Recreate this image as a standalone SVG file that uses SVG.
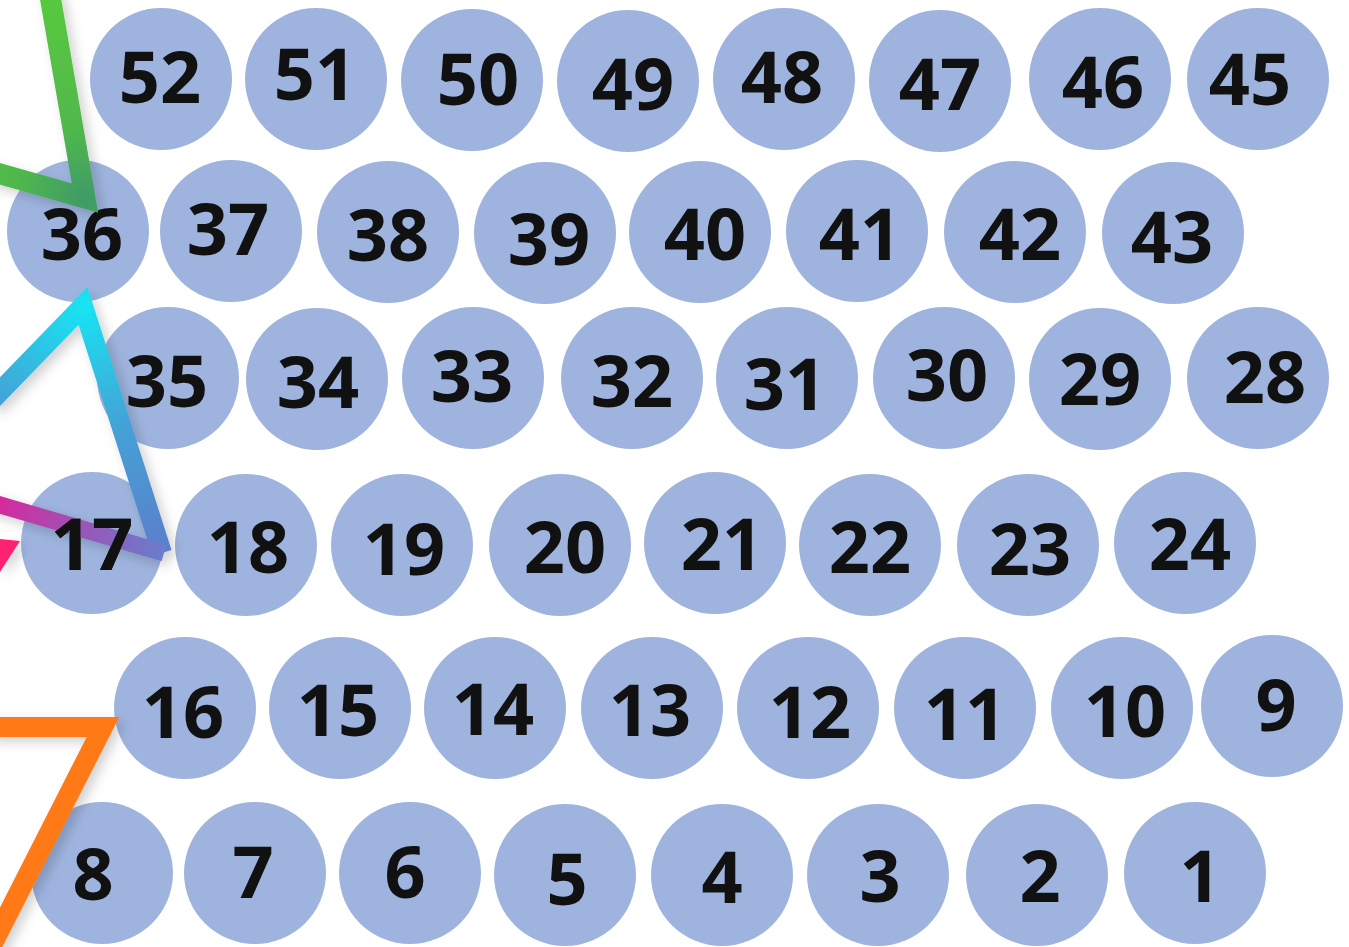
<svg xmlns="http://www.w3.org/2000/svg" xmlns:xlink="http://www.w3.org/1999/xlink" width="1349" height="947" viewBox="0 0 1349 947">
<style>
.n{fill:#9eb4de}
.t{font-family:"Open Sans","Liberation Sans",sans-serif;font-weight:bold;font-size:72px;fill:#111;text-anchor:middle}
.ln{fill:none;stroke-linejoin:miter;stroke-miterlimit:10;stroke-linecap:butt}
</style>
<defs>
<filter id="sh" x="-20%" y="-20%" width="140%" height="140%">
<feDropShadow dx="5" dy="5" stdDeviation="6" flood-color="#000" flood-opacity="0.18"/>
</filter>
<radialGradient id="gGreen" gradientUnits="userSpaceOnUse" cx="85" cy="198" r="200">
<stop offset="0" stop-color="#3f9a68"/><stop offset="0.35" stop-color="#50b84c"/><stop offset="1" stop-color="#58c83f"/>
</radialGradient>
<radialGradient id="gCyan" gradientUnits="userSpaceOnUse" cx="83" cy="306" r="260">
<stop offset="0" stop-color="#18e4f2"/><stop offset="0.5" stop-color="#45a0d6"/><stop offset="1" stop-color="#5c7ecb"/>
</radialGradient>
<linearGradient id="gMag" gradientUnits="userSpaceOnUse" x1="0" y1="505" x2="162" y2="553">
<stop offset="0" stop-color="#d42b9c"/><stop offset="0.5" stop-color="#9a55b8"/><stop offset="1" stop-color="#6a7ccb"/>
</linearGradient>
</defs>
<rect width="1349" height="947" fill="#fff"/>
<g id="nodes">
<g id="n52"><circle class="n" cx="161" cy="79" r="71"/><text class="t" x="160" y="103">52</text></g>
<g id="n51"><circle class="n" cx="316" cy="79" r="71"/><text class="t" x="315" y="100">51</text></g>
<g id="n50"><circle class="n" cx="472" cy="80" r="71"/><text class="t" x="478" y="105">50</text></g>
<g id="n49"><circle class="n" cx="628" cy="81" r="71"/><text class="t" x="633" y="110">49</text></g>
<g id="n48"><circle class="n" cx="784" cy="79" r="71"/><text class="t" x="782" y="103">48</text></g>
<g id="n47"><circle class="n" cx="940" cy="81" r="71"/><text class="t" x="940" y="110">47</text></g>
<g id="n46"><circle class="n" cx="1100" cy="79" r="71"/><text class="t" x="1103" y="108">46</text></g>
<g id="n45"><circle class="n" cx="1258" cy="79" r="71"/><text class="t" x="1250" y="105">45</text></g>

<g id="n36"><circle class="n" cx="78" cy="231" r="71"/><text class="t" x="82" y="260">36</text></g>
<g id="n37"><circle class="n" cx="231" cy="231" r="71"/><text class="t" x="228" y="255">37</text></g>
<g id="n38"><circle class="n" cx="388" cy="232" r="71"/><text class="t" x="388" y="261">38</text></g>
<g id="n39"><circle class="n" cx="545" cy="233" r="71"/><text class="t" x="549" y="265">39</text></g>
<g id="n40"><circle class="n" cx="700" cy="232" r="71"/><text class="t" x="705" y="260">40</text></g>
<g id="n41"><circle class="n" cx="857" cy="231" r="71"/><text class="t" x="860" y="260">41</text></g>
<g id="n42"><circle class="n" cx="1015" cy="232" r="71"/><text class="t" x="1020" y="260">42</text></g>
<g id="n43"><circle class="n" cx="1173" cy="233" r="71"/><text class="t" x="1172" y="263">43</text></g>

<g id="n35"><circle class="n" cx="168" cy="378" r="71"/><text class="t" x="167" y="407">35</text></g>
<g id="n34"><circle class="n" cx="317" cy="379" r="71"/><text class="t" x="318" y="408">34</text></g>
<g id="n33"><circle class="n" cx="473" cy="378" r="71"/><text class="t" x="472" y="402">33</text></g>
<g id="n32"><circle class="n" cx="632" cy="378" r="71"/><text class="t" x="632" y="407">32</text></g>
<g id="n31"><circle class="n" cx="787" cy="378" r="71"/><text class="t" x="785" y="410">31</text></g>
<g id="n30"><circle class="n" cx="944" cy="378" r="71"/><text class="t" x="947" y="401">30</text></g>
<g id="n29"><circle class="n" cx="1100" cy="379" r="71"/><text class="t" x="1100" y="405">29</text></g>
<g id="n28"><circle class="n" cx="1258" cy="378" r="71"/><text class="t" x="1265" y="403">28</text></g>

<g id="n17"><circle class="n" cx="92" cy="543" r="71"/><text id="t17" class="t" x="92" y="570">17</text></g>
<g id="n18"><circle class="n" cx="246" cy="545" r="71"/><text class="t" x="248" y="573">18</text></g>
<g id="n19"><circle class="n" cx="402" cy="545" r="71"/><text class="t" x="404" y="575">19</text></g>
<g id="n20"><circle class="n" cx="560" cy="545" r="71"/><text class="t" x="565" y="573">20</text></g>
<g id="n21"><circle class="n" cx="715" cy="543" r="71"/><text class="t" x="722" y="570">21</text></g>
<g id="n22"><circle class="n" cx="870" cy="545" r="71"/><text class="t" x="870" y="573">22</text></g>
<g id="n23"><circle class="n" cx="1028" cy="545" r="71"/><text class="t" x="1030" y="575">23</text></g>
<g id="n24"><circle class="n" cx="1185" cy="543" r="71"/><text class="t" x="1190" y="570">24</text></g>

<g id="n16"><circle class="n" cx="185" cy="708" r="71"/><text class="t" x="183" y="738">16</text></g>
<g id="n15"><circle class="n" cx="340" cy="708" r="71"/><text class="t" x="338" y="736">15</text></g>
<g id="n14"><circle class="n" cx="495" cy="708" r="71"/><text class="t" x="493" y="735">14</text></g>
<g id="n13"><circle class="n" cx="652" cy="708" r="71"/><text class="t" x="650" y="736">13</text></g>
<g id="n12"><circle class="n" cx="808" cy="708" r="71"/><text class="t" x="810" y="738">12</text></g>
<g id="n11"><circle class="n" cx="965" cy="708" r="71"/><text class="t" x="965" y="740">11</text></g>
<g id="n10"><circle class="n" cx="1122" cy="708" r="71"/><text class="t" x="1125" y="737">10</text></g>
<g id="n9"><circle class="n" cx="1272" cy="706" r="71"/><text class="t" x="1276" y="731">9</text></g>

<g id="n8"><circle class="n" cx="102" cy="873" r="71"/><text class="t" x="93" y="900">8</text></g>
<g id="n7"><circle class="n" cx="255" cy="873" r="71"/><text class="t" x="253" y="898">7</text></g>
<g id="n6"><circle class="n" cx="410" cy="873" r="71"/><text class="t" x="405" y="898">6</text></g>
<g id="n5"><circle class="n" cx="565" cy="875" r="71"/><text class="t" x="567" y="905">5</text></g>
<g id="n4"><circle class="n" cx="722" cy="875" r="71"/><text class="t" x="722" y="903">4</text></g>
<g id="n3"><circle class="n" cx="878" cy="875" r="71"/><text class="t" x="880" y="902">3</text></g>
<g id="n2"><circle class="n" cx="1037" cy="875" r="71"/><text class="t" x="1040" y="902">2</text></g>
<g id="n1"><circle class="n" cx="1195" cy="873" r="71"/><text class="t" x="1200" y="902">1</text></g>
</g>
<g id="connectors" filter="url(#sh)">
<polyline class="ln" points="49,-10 85,198 -10,171" stroke="url(#gGreen)" stroke-width="21"/>
<polyline class="ln" points="-10,402 83,306 162,553" stroke="url(#gCyan)" stroke-width="20"/>
<polyline class="ln" points="-10,502 164,553" stroke="url(#gMag)" stroke-width="17"/>
<polygon points="0,539 20,541 0,572" fill="#ff2070"/>
<polyline class="ln" points="-10,727 103,727 -14,957" stroke="#ff7a18" stroke-width="20"/>
</g>
<g id="overlay"><use xlink:href="#t17"/></g>
</svg>
